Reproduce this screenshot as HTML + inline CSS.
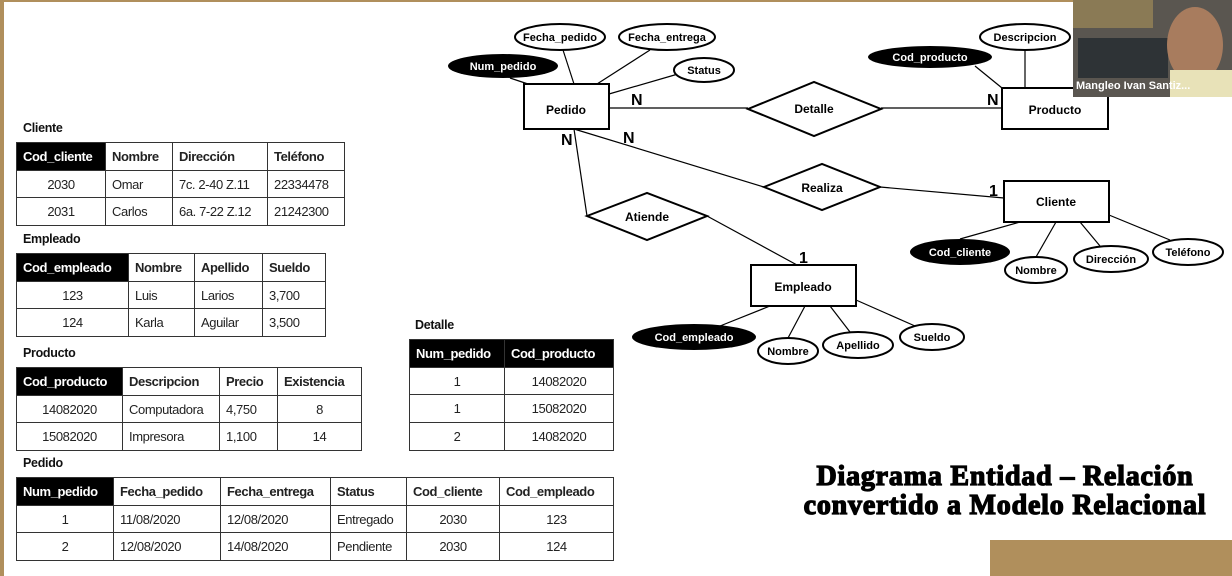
<!DOCTYPE html>
<html><head><meta charset="utf-8"><style>
body{margin:0;width:1232px;height:576px;background:#fff;position:relative;overflow:hidden;font-family:"Liberation Sans",sans-serif}
.bl{position:absolute;left:0;top:0;width:4px;height:576px;background:#b08f5c}
.bt{position:absolute;left:0;top:0;width:1232px;height:2px;background:#b08f5c}
.br{position:absolute;left:990px;top:540px;width:242px;height:36px;background:#b08f5c}
.lbl{position:absolute;font-weight:bold;font-size:12.5px;color:#111;letter-spacing:-0.3px}
table{position:absolute;border-collapse:collapse;table-layout:fixed;font-size:13px;color:#222;letter-spacing:-0.4px}
tr{height:27.7px}
td{border:1.5px solid #333;padding:0 6px;white-space:nowrap;overflow:hidden}
tr:first-child td{font-weight:bold}
td.k{background:#000;color:#fff}
.c{text-align:center}
.t{position:absolute;left:780px;top:462px;width:450px;text-align:center;font-family:"Liberation Serif",serif;font-weight:900;font-size:28px;line-height:29px;color:#000;letter-spacing:0.8px;-webkit-text-stroke:1.3px #000}
</style></head><body>
<div class="bt"></div><div class="bl"></div><div class="br"></div>

<div class="lbl" style="left:23px;top:121px">Cliente</div>
<table style="left:16px;top:142px;width:328px"><colgroup><col style="width:89px"><col style="width:67px"><col style="width:95px"><col style="width:77px"></colgroup>
<tr><td class="k">Cod_cliente</td><td>Nombre</td><td>Dirección</td><td>Teléfono</td></tr>
<tr><td class="c">2030</td><td>Omar</td><td>7c. 2-40 Z.11</td><td>22334478</td></tr>
<tr><td class="c">2031</td><td>Carlos</td><td>6a. 7-22 Z.12</td><td>21242300</td></tr></table>

<div class="lbl" style="left:23px;top:232px">Empleado</div>
<table style="left:16px;top:253px;width:309px"><colgroup><col style="width:112px"><col style="width:66px"><col style="width:68px"><col style="width:63px"></colgroup>
<tr><td class="k">Cod_empleado</td><td>Nombre</td><td>Apellido</td><td>Sueldo</td></tr>
<tr><td class="c">123</td><td>Luis</td><td>Larios</td><td>3,700</td></tr>
<tr><td class="c">124</td><td>Karla</td><td>Aguilar</td><td>3,500</td></tr></table>

<div class="lbl" style="left:23px;top:346px">Producto</div>
<table style="left:16px;top:367px;width:345px"><colgroup><col style="width:106px"><col style="width:97px"><col style="width:58px"><col style="width:84px"></colgroup>
<tr><td class="k">Cod_producto</td><td>Descripcion</td><td>Precio</td><td>Existencia</td></tr>
<tr><td class="c">14082020</td><td>Computadora</td><td>4,750</td><td class="c">8</td></tr>
<tr><td class="c">15082020</td><td>Impresora</td><td>1,100</td><td class="c">14</td></tr></table>

<div class="lbl" style="left:415px;top:318px">Detalle</div>
<table style="left:409px;top:339px;width:204px"><colgroup><col style="width:95px"><col style="width:109px"></colgroup>
<tr><td class="k">Num_pedido</td><td class="k">Cod_producto</td></tr>
<tr><td class="c">1</td><td class="c">14082020</td></tr>
<tr><td class="c">1</td><td class="c">15082020</td></tr>
<tr><td class="c">2</td><td class="c">14082020</td></tr></table>

<div class="lbl" style="left:23px;top:456px">Pedido</div>
<table style="left:16px;top:477px;width:597px"><colgroup><col style="width:97px"><col style="width:107px"><col style="width:110px"><col style="width:76px"><col style="width:93px"><col style="width:114px"></colgroup>
<tr><td class="k">Num_pedido</td><td>Fecha_pedido</td><td>Fecha_entrega</td><td>Status</td><td>Cod_cliente</td><td>Cod_empleado</td></tr>
<tr><td class="c">1</td><td>11/08/2020</td><td>12/08/2020</td><td>Entregado</td><td class="c">2030</td><td class="c">123</td></tr>
<tr><td class="c">2</td><td>12/08/2020</td><td>14/08/2020</td><td>Pendiente</td><td class="c">2030</td><td class="c">124</td></tr></table>

<svg style="position:absolute;left:0;top:0" width="1232" height="576" font-family="Liberation Sans,sans-serif" font-weight="bold">
<g stroke="#000" stroke-width="1.2" fill="none">
<line x1="609" y1="108" x2="748" y2="108"/><line x1="881" y1="108" x2="1002" y2="108"/>
<line x1="574" y1="129" x2="764" y2="187"/><line x1="880" y1="187" x2="1004" y2="198"/>
<line x1="574" y1="129" x2="587" y2="216"/><line x1="707" y1="216" x2="797" y2="265"/>
<line x1="563" y1="50" x2="574" y2="84"/><line x1="650" y1="50" x2="597" y2="84"/>
<line x1="678" y1="74" x2="609" y2="94"/><line x1="510" y1="78" x2="528" y2="84"/>
<line x1="1025" y1="50" x2="1025" y2="88"/><line x1="975" y1="66" x2="1002" y2="88"/>
<line x1="960" y1="239" x2="1020" y2="222"/><line x1="1036" y1="257" x2="1056" y2="222"/>
<line x1="1100" y1="246" x2="1080" y2="222"/><line x1="1170" y1="240" x2="1109" y2="215"/>
<line x1="720" y1="326" x2="770" y2="306"/><line x1="788" y1="338" x2="805" y2="306"/>
<line x1="850" y1="332" x2="830" y2="306"/><line x1="915" y1="326" x2="856" y2="300"/>
</g>
<g stroke="#000" stroke-width="2" fill="#fff">
<rect x="524" y="84" width="85" height="45"/><rect x="1002" y="88" width="106" height="41"/>
<rect x="1004" y="181" width="105" height="41"/><rect x="751" y="265" width="105" height="41"/>
<polygon points="748,109 814,82 881,109 814,136"/><polygon points="764,187 822,164 880,187 822,210"/>
<polygon points="587,216 647,193 707,216 647,240"/>
<ellipse cx="560" cy="37" rx="45" ry="13"/><ellipse cx="667" cy="37" rx="48" ry="13"/>
<ellipse cx="704" cy="70" rx="30" ry="12"/><ellipse cx="1025" cy="37" rx="45" ry="13"/>
<ellipse cx="1036" cy="270" rx="31" ry="13"/><ellipse cx="1111" cy="259" rx="37" ry="13"/>
<ellipse cx="1188" cy="252" rx="35" ry="13"/><ellipse cx="788" cy="351" rx="30" ry="13"/>
<ellipse cx="858" cy="345" rx="35" ry="13"/><ellipse cx="932" cy="337" rx="32" ry="13"/>
</g>
<g fill="#000"><ellipse cx="503" cy="66" rx="55" ry="12"/><ellipse cx="930" cy="57" rx="62" ry="11"/>
<ellipse cx="960" cy="252" rx="50" ry="13"/><ellipse cx="694" cy="337" rx="62" ry="13"/></g>
<g font-size="12" text-anchor="middle" fill="#000">
<text x="566" y="114">Pedido</text><text x="1055" y="114">Producto</text><text x="1056" y="206">Cliente</text><text x="803" y="291">Empleado</text>
<text x="814" y="113">Detalle</text><text x="822" y="192">Realiza</text><text x="647" y="221">Atiende</text>
</g>
<g font-size="11" text-anchor="middle" fill="#000">
<text x="560" y="41">Fecha_pedido</text><text x="667" y="41">Fecha_entrega</text><text x="704" y="74">Status</text><text x="1025" y="41">Descripcion</text>
<text x="1036" y="274">Nombre</text><text x="1111" y="263">Dirección</text><text x="1188" y="256">Teléfono</text>
<text x="788" y="355">Nombre</text><text x="858" y="349">Apellido</text><text x="932" y="341">Sueldo</text>
</g>
<g font-size="11" text-anchor="middle" fill="#fff">
<text x="503" y="70">Num_pedido</text><text x="930" y="61">Cod_producto</text><text x="960" y="256">Cod_cliente</text><text x="694" y="341">Cod_empleado</text>
</g>
<g font-size="16" fill="#000">
<text x="631" y="105">N</text><text x="987" y="105">N</text><text x="561" y="145">N</text><text x="623" y="143">N</text>
<text x="989" y="196">1</text><text x="799" y="263">1</text>
</g>
<rect x="1073" y="0" width="159" height="97" fill="#5a5650"/>
<rect x="1073" y="0" width="80" height="28" fill="#8a7a55"/>
<rect x="1078" y="38" width="90" height="40" fill="#2e3336"/>
<ellipse cx="1195" cy="45" rx="28" ry="38" fill="#a87c5e"/>
<rect x="1170" y="70" width="62" height="27" fill="#e8e2b8"/>
<text x="1076" y="89" font-size="11" fill="#fff">Mangleo Ivan Santiz...</text>
</svg>
<div class="t">Diagrama Entidad – Relación<br>convertido a Modelo Relacional</div>
</body></html>
